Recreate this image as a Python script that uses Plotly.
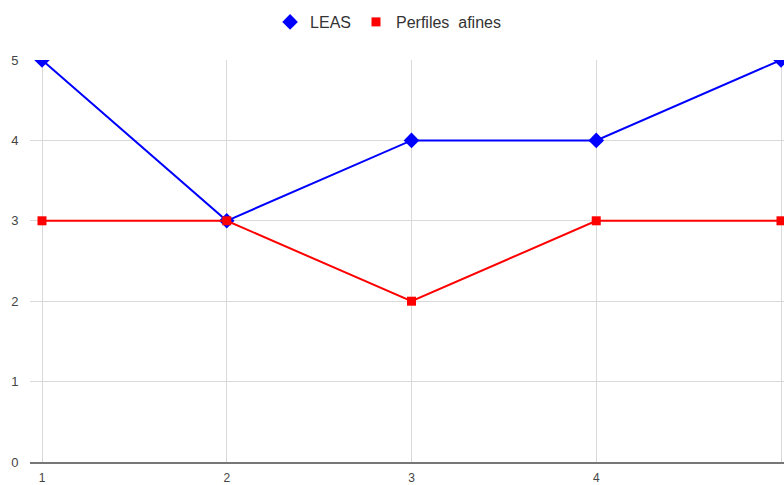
import plotly.graph_objects as go

# Data
x_vals = [1, 2, 3, 4, 5]
leas = [5, 3, 4, 4, 5]
perfiles_afines = [3, 3, 2, 3, 3]
x_ticks = [1, 2, 3, 4, 5]
y_ticks = [0, 1, 2, 3, 4, 5]

series = [
    dict(name="LEAS", y=leas, color="#0000ff", symbol="diamond", size=12),
    dict(name="Perfiles  afines", y=perfiles_afines, color="#ff0000", symbol="square", size=9),
]

fig = go.Figure()

# Lines with markers (legend handled by marker-only entries below)
for s in series:
    fig.add_trace(go.Scatter(
        x=x_vals, y=s["y"], name=s["name"], mode="lines+markers",
        line=dict(color=s["color"], width=2),
        marker=dict(symbol=s["symbol"], size=s["size"], color=s["color"]),
        showlegend=False, legendgroup=s["name"],
    ))

# Marker-only legend entries
for s in series:
    fig.add_trace(go.Scatter(
        x=[None], y=[None], name=s["name"], mode="markers",
        marker=dict(symbol=s["symbol"], size=s["size"], color=s["color"]),
        showlegend=True, legendgroup=s["name"],
    ))

fig.update_layout(
    width=784, height=485,
    margin=dict(l=30, r=0, t=60, b=23, autoexpand=False),
    paper_bgcolor="white", plot_bgcolor="white",
    font=dict(family="Liberation Sans, Arial, sans-serif", size=13, color="#444444"),
    showlegend=True,
    legend=dict(
        orientation="h", xref="container", yref="container",
        x=0.495, xanchor="center", y=1 - 22 / 485, yanchor="middle",
        font=dict(size=16, color="#333333"),
        itemwidth=30,
    ),
    xaxis=dict(
        range=[1 - 12 / 184.75, 1 + (784 - 42) / 184.75],
        tickvals=x_ticks, ticktext=[str(v) for v in x_ticks],
        showgrid=True, gridcolor="#d9d9d9", gridwidth=1,
        zeroline=False, automargin=False,
        showline=True, linecolor="#777777", linewidth=2,
        ticks="outside", ticklen=4, tickcolor="rgba(0,0,0,0)",
        tickfont=dict(size=12, color="#444444"),
    ),
    yaxis=dict(
        range=[0, 5], automargin=False,
        tickvals=y_ticks, ticktext=[str(v) for v in y_ticks],
        showgrid=True, gridcolor="#d9d9d9", gridwidth=1,
        zeroline=False, showline=False,
        ticks="outside", ticklen=8, tickcolor="rgba(0,0,0,0)",
        tickfont=dict(size=13, color="#444444"),
    ),
)

fig.write_html("out.html")
